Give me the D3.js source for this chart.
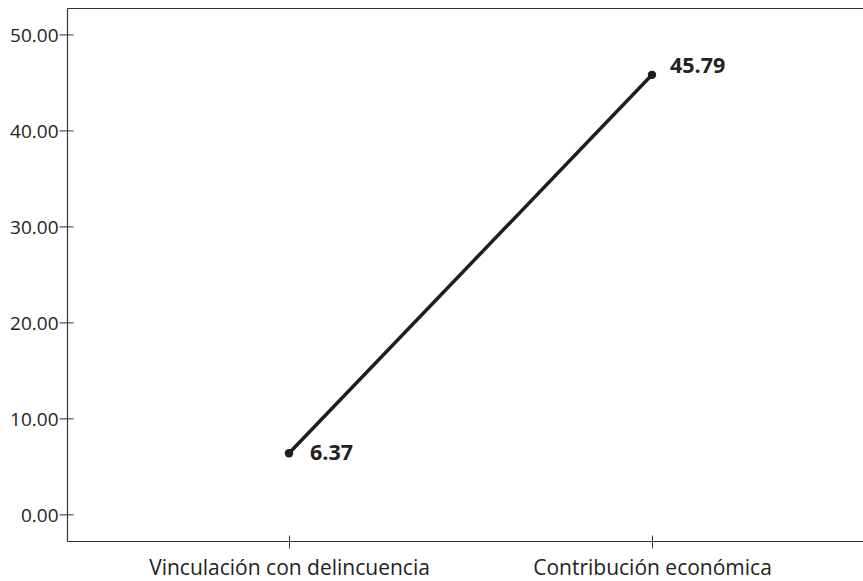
<!DOCTYPE html>
<html><head><meta charset="utf-8">
<script src="https://cdn.jsdelivr.net/npm/d3@7"></script>
<style>body{margin:0;background:#fff}svg{display:block}text{font-family:"Open Sans",sans-serif;fill:#222}</style>
</head><body><svg id="c" width="863" height="581"></svg>
<script>
const categories = ["Vinculación con delincuencia", "Contribución económica"];
const values = [6.37, 45.79];
const valueLabels = ["6.37", "45.79"];
const yTicks = [0, 10, 20, 30, 40, 50];

(function(){
const svg = d3.select("#c");
const pLeft = 67.5, pTop = 8.5, pBottom = 541.5, pRight = 863;
const y = d3.scaleLinear().domain([-2.83, 52.7]).range([pBottom, pTop]);
const x = d3.scalePoint().domain(categories).range([289, 652]);

svg.append("line").attr("x1", pLeft).attr("x2", pRight).attr("y1", pTop).attr("y2", pTop)
  .attr("stroke", "#333").attr("stroke-width", 1.2);

const yAxis = svg.append("g").attr("transform", `translate(${pLeft},0)`)
  .call(d3.axisLeft(y).tickValues(yTicks).tickFormat(d3.format(".2f")).tickSizeInner(8).tickSizeOuter(0).tickPadding(1));
yAxis.select(".domain").attr("d", `M0,${pTop}V${pBottom}`).attr("stroke", "#333").attr("stroke-width", 1.2);
yAxis.selectAll(".tick line").attr("x1", -8).attr("x2", 6).attr("stroke", "#333");
yAxis.selectAll(".tick text").style("font-size", "19px").attr("fill", "#222").attr("dy", "0.38em");

const xAxis = svg.append("g").attr("transform", `translate(0,${pBottom})`)
  .call(d3.axisBottom(x).tickSizeInner(7).tickSizeOuter(0));
xAxis.select(".domain").attr("d", `M${pLeft},0H${pRight}`).attr("stroke", "#333").attr("stroke-width", 1.2);
xAxis.selectAll(".tick line").attr("y1", -6).attr("y2", 7).attr("stroke", "#333");
xAxis.selectAll(".tick text").style("font-size", "21px").attr("fill", "#222").attr("y", 33.5).attr("dy", 0);

const pts = categories.map((c, i) => ({c, v: values[i], l: valueLabels[i]}));
svg.append("path").datum(pts)
  .attr("d", d3.line().x(d => x(d.c)).y(d => y(d.v)))
  .attr("fill", "none").attr("stroke", "#1e1e1e").attr("stroke-width", 3.5);
svg.selectAll("circle.pt").data(pts).join("circle").attr("class", "pt")
  .attr("cx", d => x(d.c)).attr("cy", d => y(d.v)).attr("r", 4.2).attr("fill", "#1e1e1e");
svg.selectAll("text.lab").data(pts).join("text").attr("class", "lab")
  .attr("x", (d, i) => x(d.c) + (i === 0 ? 21 : 18)).attr("y", (d, i) => y(d.v) + (i === 0 ? 7 : -1.5))
  .style("font-size", "21.5px").style("font-weight", "bold").text(d => d.l);
})();
</script></body></html>
